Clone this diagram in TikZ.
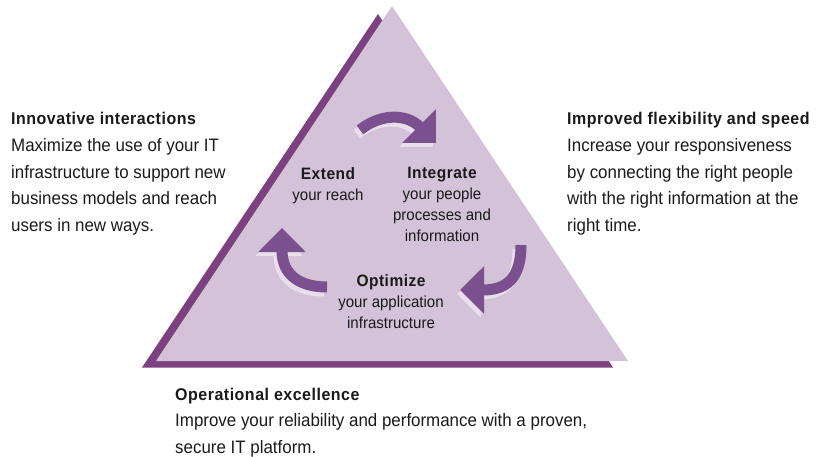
\documentclass[tikz,border=0pt]{standalone}
\usepackage{fontspec}
\setmainfont{Liberation Sans}[FakeStretch=0.94]
\usetikzlibrary{arrows.meta}
\tikzset{>={Triangle[width=46pt,length=24pt]}}
\definecolor{plum}{RGB}{124,66,128}
\definecolor{lilac}{RGB}{212,194,216}
\definecolor{turnpurple}{RGB}{122,80,142}
\definecolor{turnshade}{RGB}{233,222,236}
\definecolor{ink}{RGB}{26,26,26}
\newcommand{\headline}[1]{{\bfseries\addfontfeature{LetterSpace=3}#1}}
\tikzset{
  outerblock/.style={anchor=north west, inner sep=0pt, align=left, text=ink,
    font=\fontsize{18}{26.8}\selectfont},
  innerblock/.style={anchor=north, inner sep=0pt, align=center, text=ink,
    font=\fontsize{16}{21}\selectfont},
  turn/.style={->, line width=11pt, draw=turnpurple},
  turnshadow/.style={->, line width=11pt, draw=turnshade, shift={(-3,4)}}
}

\begin{document}
\begin{tikzpicture}[x=1pt, y=-1pt]
    \useasboundingbox (0,0) rectangle (826,456);

    \fill[plum] (378,14) -- (142,367.5) -- (613,367.5) -- cycle;
    \fill[lilac] (392,6) -- (156,361) -- (628,361) -- cycle;

    \draw[turnshadow] (360,130) .. controls (378,115) and (405,112) .. (436,143);
    \draw[turnshadow] (327,287) .. controls (300,287) and (282,275) .. (282,228);
    \draw[turnshadow] (521,245) .. controls (521,280) and (505,290) .. (460,290);

    \draw[turn] (360,130) .. controls (378,115) and (405,112) .. (436,143);
    \draw[turn] (327,287) .. controls (300,287) and (282,275) .. (282,228);
    \draw[turn] (521,245) .. controls (521,280) and (505,290) .. (460,290);

    \node[innerblock] (extend) at (328,167) {\headline{\fontsize{16.5}{21}\selectfont Extend}\\your reach};
    \node[innerblock] (integrate) at (442,167) {\headline{\fontsize{16.5}{21}\selectfont Integrate}\\your people\\processes and\\information};
    \node[innerblock] (optimize) at (391,274) {\headline{\fontsize{16.5}{21}\selectfont Optimize}\\your application\\infrastructure};

    \node[outerblock] (innovative) at (11,112) {\headline{\fontsize{17}{26.8}\selectfont Innovative interactions}\\Maximize the use of your IT\\infrastructure to support new\\business models and reach\\users in new ways.};
    \node[outerblock] (flexibility) at (567,112) {\headline{\fontsize{17}{26.8}\selectfont Improved flexibility and speed}\\Increase your responsiveness\\by connecting the right people\\with the right information at the\\right time.};
    \node[outerblock] (operational) at (175,387.5) {\headline{\fontsize{17}{26.8}\selectfont Operational excellence}\\Improve your reliability and performance with a proven,\\secure IT platform.};
\end{tikzpicture}
\end{document}
